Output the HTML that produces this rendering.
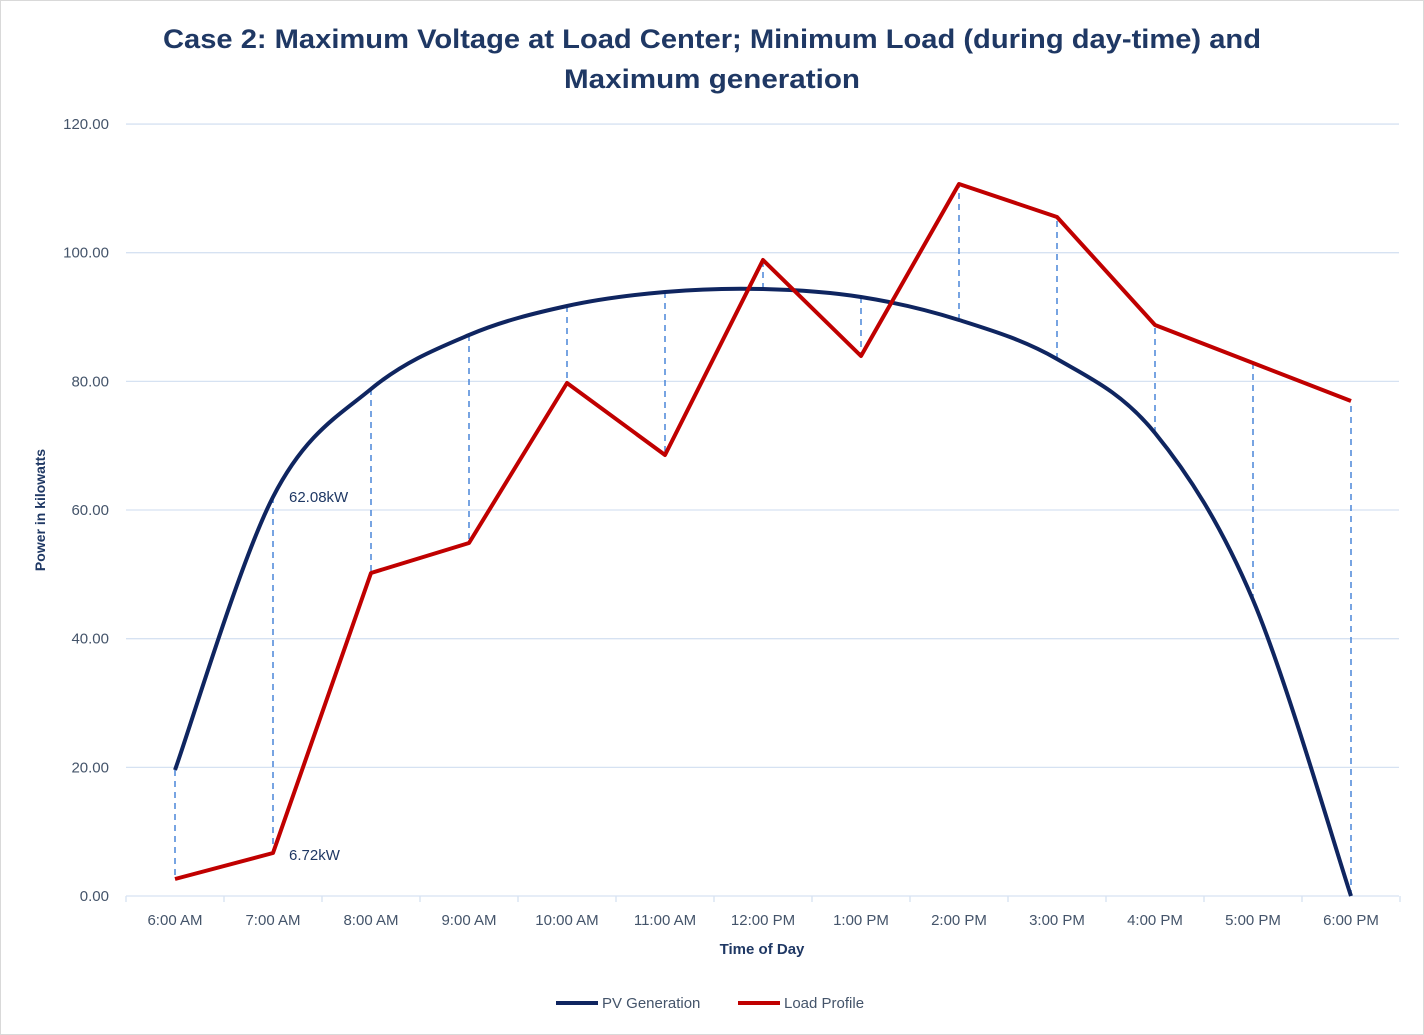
<!DOCTYPE html>
<html><head><meta charset="utf-8"><style>
html,body{margin:0;padding:0;background:#fff;}
svg{display:block;font-family:"Liberation Sans",sans-serif;}
</style></head><body>
<svg id="s" width="1424" height="1035" viewBox="0 0 1424 1035" xmlns="http://www.w3.org/2000/svg">
<rect x="0.5" y="0.5" width="1423" height="1034" fill="#fff" stroke="#d9d9d9"/>
<text x="712" y="48" text-anchor="middle" font-size="27" font-weight="bold" fill="#1f3864" textLength="1098" lengthAdjust="spacingAndGlyphs">Case 2: Maximum Voltage at Load Center; Minimum Load (during day-time) and</text>
<text x="712" y="88" text-anchor="middle" font-size="27" font-weight="bold" fill="#1f3864" textLength="296" lengthAdjust="spacingAndGlyphs">Maximum generation</text>
<g id="grid" stroke="#d6e2f2" stroke-width="1.3"></g>
<g id="ylab" font-size="15" fill="#44546a" text-anchor="end"></g>
<g id="xlab" font-size="15" fill="#44546a" text-anchor="middle"></g>
<text transform="translate(45,510) rotate(-90)" text-anchor="middle" font-size="14" font-weight="bold" fill="#1f3864">Power in kilowatts</text>
<text x="762" y="954" text-anchor="middle" font-size="15" font-weight="bold" fill="#1f3864">Time of Day</text>
<g id="drops" stroke="#4a86d8" stroke-width="1.5" stroke-dasharray="6,5"></g>
<path id="pv" fill="none" stroke="#0f2560" stroke-width="4" stroke-linejoin="round"/>
<polyline id="ld" fill="none" stroke="#c00000" stroke-width="4" stroke-linejoin="round"/>
<text x="289" y="502" font-size="15" fill="#1f3864">62.08kW</text>
<text x="289" y="860" font-size="15" fill="#1f3864">6.72kW</text>
<line x1="556" y1="1003" x2="598" y2="1003" stroke="#0f2560" stroke-width="4"/>
<text x="602" y="1008" font-size="15" fill="#44546a">PV Generation</text>
<line x1="738" y1="1003" x2="780" y2="1003" stroke="#c00000" stroke-width="4"/>
<text x="784" y="1008" font-size="15" fill="#44546a">Load Profile</text>
</svg>
<script>
var NS="http://www.w3.org/2000/svg";
function el(p,t,a,txt){var e=document.createElementNS(NS,t);for(var k in a)e.setAttribute(k,a[k]);if(txt)e.textContent=txt;document.getElementById(p).appendChild(e);}
for(var i=0;i<=6;i++){var y=896-i*128.66;
 if(i>0)el("grid","line",{x1:126,x2:1399,y1:y,y2:y});
 el("ylab","text",{x:109,y:y+5},(i*20).toFixed(2));}
el("grid","line",{x1:126,x2:1399,y1:896,y2:896});
var labs=["6:00 AM","7:00 AM","8:00 AM","9:00 AM","10:00 AM","11:00 AM","12:00 PM","1:00 PM","2:00 PM","3:00 PM","4:00 PM","5:00 PM","6:00 PM"];
for(var i=0;i<=13;i++){var x=126+i*98;el("grid","line",{x1:x,x2:x,y1:896,y2:902});}
var pv=[770,497,389,335,306,292,289,297,320,359,433,600,896];
var ld=[879,853,573,543,383,455,260,356,184,217,325,363,401];
var P=[],L=[];
for(var i=0;i<13;i++){var x=175+i*98;P.push([x,pv[i]]);L.push(x+","+ld[i]);
 el("xlab","text",{x:x,y:925},labs[i]);
 el("drops","line",{x1:x,x2:x,y1:pv[i],y2:ld[i]});}
document.getElementById("ld").setAttribute("points",L.join(" "));
var d="M"+P[0][0]+","+P[0][1];
for(var i=0;i<12;i++){var p0=P[Math.max(0,i-1)],p1=P[i],p2=P[i+1],p3=P[Math.min(12,i+2)];
 var c1x=p1[0]+(p2[0]-p0[0])/6,c1y=p1[1]+(p2[1]-p0[1])/6,c2x=p2[0]-(p3[0]-p1[0])/6,c2y=p2[1]-(p3[1]-p1[1])/6;
 d+=" C"+c1x+","+c1y+" "+c2x+","+c2y+" "+p2[0]+","+p2[1];}
document.getElementById("pv").setAttribute("d",d);
</script>
</body></html>
